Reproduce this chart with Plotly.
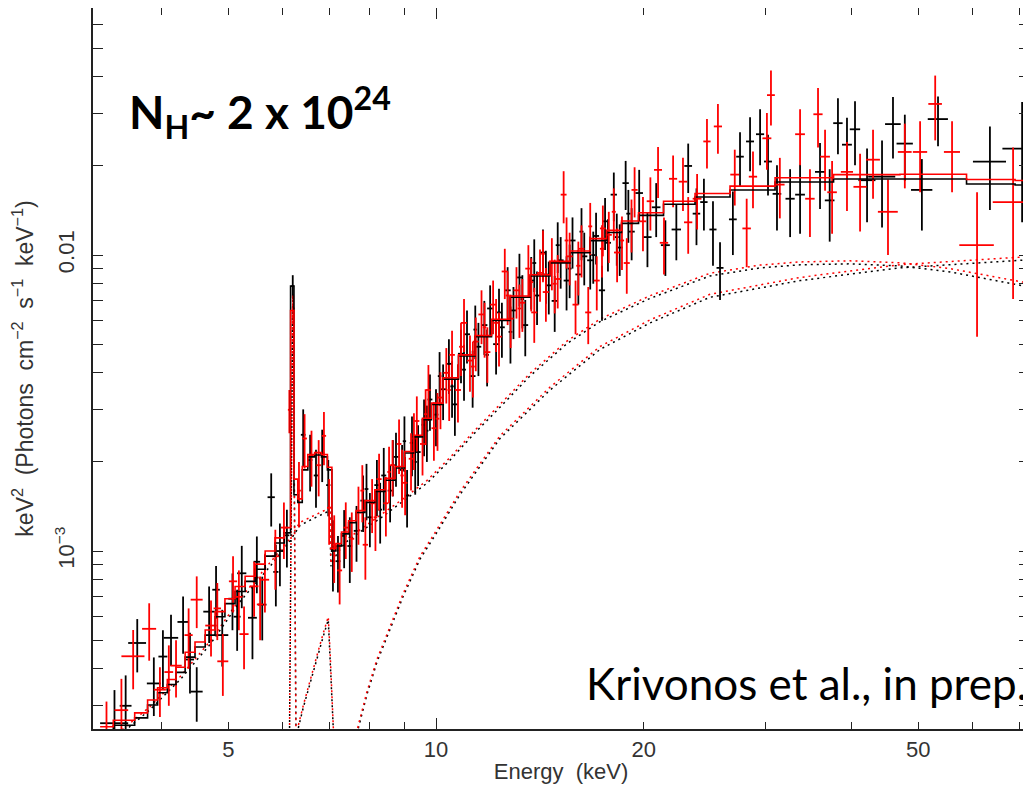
import plotly.graph_objects as go

# ---------------- FPMA (black) unfolded spectrum ----------------
fpma_energy = [3.42, 3.69, 3.90, 4.13, 4.30, 4.50, 4.69, 4.90, 5.07, 5.23, 5.42, 5.60, 5.77, 5.94, 6.08,
               6.20, 6.42, 6.57, 6.70, 6.84, 6.98, 7.09, 7.21, 7.36, 7.50,
               7.67, 7.84, 8.02, 8.21, 8.40, 8.58, 8.75, 8.93, 9.08, 9.23, 9.42, 9.61, 9.80, 10.0,
               10.24, 10.44, 10.65, 10.87, 11.09, 11.30, 11.52, 11.75, 11.98, 12.22,
               12.46, 12.70, 12.95, 13.21, 13.47, 13.74, 14.01, 14.29, 14.57, 14.86,
               15.16, 15.46, 15.77, 16.08, 16.40, 16.73, 17.06, 17.40, 17.75, 18.10,
               18.46, 18.83, 19.21, 19.70,
               20.25, 20.85, 21.50, 22.30, 23.20, 23.85, 24.45, 25.20, 25.80, 26.93, 27.58,
               28.52, 29.49, 30.28, 31.20, 32.60, 33.70, 36.02, 37.20, 38.24, 39.41,
               40.48, 42.14, 44.30, 45.95, 47.80, 50.60, 53.40, 63.50, 70.70,
               3.55, 4.02, 4.40, 4.80, 5.15, 5.50, 5.86,
               7.93, 8.30, 8.66, 9.00, 9.33, 9.70, 10.12, 10.55, 10.98, 11.40, 11.86, 12.34,
               12.82, 13.34, 13.88, 14.43, 15.01, 15.62, 16.25, 16.90, 17.58, 18.28, 19.00]
fpma_energy_halfwidth = [0.16, 0.11, 0.09, 0.10, 0.08, 0.09, 0.09, 0.10, 0.07, 0.08, 0.08, 0.08, 0.07, 0.07, 0.05,
                         0.03, 0.05, 0.05, 0.05, 0.05, 0.05, 0.05, 0.06, 0.06, 0.06,
                         0.07, 0.07, 0.07, 0.07, 0.07, 0.07, 0.07, 0.07, 0.07, 0.07, 0.08, 0.08, 0.08, 0.08,
                         0.10, 0.10, 0.10, 0.11, 0.11, 0.11, 0.11, 0.12, 0.12, 0.12,
                         0.12, 0.13, 0.13, 0.13, 0.13, 0.14, 0.14, 0.14, 0.15, 0.15,
                         0.15, 0.15, 0.16, 0.16, 0.17, 0.17, 0.17, 0.18, 0.18, 0.19,
                         0.19, 0.20, 0.20, 0.25,
                         0.28, 0.30, 0.32, 0.35, 0.30, 0.30, 0.30, 0.30, 0.30, 0.35, 0.35,
                         0.38, 0.40, 0.40, 0.45, 0.50, 0.55, 0.60, 0.60, 0.60, 0.65,
                         0.70, 1.2, 2.0, 1.2, 1.3, 1.8, 1.8, 3.5, 4.5,
                         0.07, 0.06, 0.06, 0.06, 0.06, 0.06, 0.05,
                         0.05, 0.05, 0.05, 0.05, 0.05, 0.05, 0.06, 0.06, 0.07, 0.07, 0.07, 0.08,
                         0.08, 0.08, 0.09, 0.09, 0.10, 0.10, 0.11, 0.11, 0.12, 0.12, 0.13]
fpma_flux = [2.62e-4, 4.89e-4, 3.57e-4, 5.09e-4, 5.76e-4, 3.35e-4, 6.24e-4, 5.20e-4, 6.9e-4, 8.41e-4,
             5.95e-4, 6.59e-4, 1.52e-3, 1.0e-3, 1.13e-3,
             7.85e-3, 2.47e-3, 2.03e-3, 1.80e-3, 2.14e-3, 1.67e-3, 1.0e-3, 9.24e-4, 1.125e-3, 1.04e-3,
             1.17e-3, 1.48e-3, 1.30e-3, 1.67e-3, 1.80e-3, 1.60e-3, 2.08e-3, 1.88e-3, 1.54e-3, 2.32e-3,
             2.16e-3, 2.67e-3, 3.25e-3, 2.89e-3,
             3.52e-3, 4.29e-3, 3.13e-3, 4.64e-3, 5.40e-3, 3.90e-3, 4.90e-3, 5.80e-3, 6.60e-3, 5.00e-3,
             5.70e-3, 7.60e-3, 6.50e-3, 8.40e-3, 5.80e-3, 8.20e-3, 7.30e-3, 1.02e-2, 7.90e-3, 7.00e-3,
             9.60e-3, 8.20e-3, 1.12e-2, 8.60e-3, 9.90e-3, 9.60e-3, 1.16e-2, 7.60e-3, 1.10e-2, 1.60e-2,
             1.06e-2, 1.75e-2, 1.20e-2, 1.62e-2,
             1.15e-2, 1.45e-2, 1.08e-2, 1.22e-2, 2.00e-2, 1.38e-2, 1.51e-2, 1.22e-2, 9.05e-3, 1.32e-2, 2.15e-2,
             2.42e-2, 2.56e-2, 2.07e-2, 1.61e-2, 1.55e-2, 1.60e-2, 1.91e-2, 1.53e-2, 2.79e-2, 2.36e-2,
             2.66e-2, 1.79e-2, 1.84e-2, 2.77e-2, 2.38e-2, 1.66e-2, 2.88e-2, 2.07e-2, 2.29e-2,
             3.0e-4, 4.4e-4, 4.3e-4, 7.4e-4, 6.0e-4, 9.2e-4, 8.5e-4,
             1.62e-3, 1.38e-3, 1.95e-3, 2.35e-3, 2.0e-3, 2.55e-3, 3.9e-3, 3.6e-3, 4.1e-3, 5.6e-3, 4.6e-3, 6.4e-3,
             5.5e-3, 7.1e-3, 9.4e-3, 8.6e-3, 1.08e-2, 9.0e-3, 1.2e-2, 1.0e-2, 1.3e-2, 1.15e-2, 1.38e-2]
fpma_flux_err = [0.77e-4, 1.0e-4, 0.8e-4, 1.0e-4, 1.26e-4, 0.7e-4, 1.35e-4, 1.13e-4, 1.5e-4, 2.0e-4,
                 1.64e-4, 1.6e-4, 3.1e-4, 2.4e-4, 2.5e-4,
                 0.7e-3, 0.54e-3, 0.44e-3, 0.40e-3, 0.43e-3, 0.36e-3, 0.27e-3, 2.0e-4, 2.5e-4, 2.6e-4,
                 0.25e-3, 0.32e-3, 0.27e-3, 0.36e-3, 0.43e-3, 0.35e-3, 0.43e-3, 0.40e-3, 0.34e-3, 0.53e-3,
                 0.50e-3, 0.58e-3, 0.70e-3, 0.63e-3,
                 0.75e-3, 0.9e-3, 0.68e-3, 0.95e-3, 1.1e-3, 0.85e-3, 1.0e-3, 1.2e-3, 1.3e-3, 1.05e-3,
                 1.2e-3, 1.5e-3, 1.3e-3, 1.7e-3, 1.25e-3, 1.65e-3, 1.5e-3, 2.0e-3, 1.6e-3, 1.5e-3,
                 1.9e-3, 1.7e-3, 2.2e-3, 1.8e-3, 2.0e-3, 1.95e-3, 2.3e-3, 1.6e-3, 2.2e-3, 3.0e-3,
                 2.1e-3, 3.3e-3, 2.4e-3, 3.2e-3,
                 2.4e-3, 3.0e-3, 2.3e-3, 2.6e-3, 3.8e-3, 3.0e-3, 3.0e-3, 3.0e-3, 2.0e-3, 3.2e-3, 4.5e-3,
                 5.0e-3, 5.5e-3, 4.8e-3, 4.0e-3, 4.0e-3, 4.2e-3, 4.8e-3, 4.2e-3, 6.0e-3, 5.5e-3,
                 6.5e-3, 5.0e-3, 6.0e-3, 6.5e-3, 6.0e-3, 4.5e-3, 5.5e-3, 6.5e-3, 1.0e-2,
                 0.8e-4, 1.0e-4, 1.0e-4, 1.5e-4, 1.4e-4, 2.0e-4, 2.0e-4,
                 0.35e-3, 0.32e-3, 0.42e-3, 0.5e-3, 0.45e-3, 0.55e-3, 0.8e-3, 0.78e-3, 0.88e-3, 1.15e-3, 1.0e-3, 1.3e-3,
                 1.2e-3, 1.45e-3, 1.9e-3, 1.75e-3, 2.1e-3, 1.85e-3, 2.4e-3, 2.0e-3, 2.6e-3, 2.3e-3, 2.8e-3]

# ---------------- FPMB (red) unfolded spectrum ----------------
fpmb_energy = [3.33, 3.64, 3.84, 3.98, 4.20, 4.50, 4.72, 4.91, 5.08, 5.27, 5.45, 5.65, 5.85, 6.02, 6.13, 6.21,
               6.33, 6.45, 6.60, 6.76, 6.88, 7.00, 7.12, 7.25, 7.40, 7.55,
               7.72, 7.90, 8.08, 8.27, 8.46, 8.65, 8.84, 9.02, 9.20, 9.38, 9.56, 9.75, 9.93,
               10.15, 10.35, 10.55, 10.76, 10.98, 11.20, 11.42, 11.64, 11.87, 12.10,
               12.34, 12.58, 12.83, 13.08, 13.34, 13.61, 13.88, 14.15, 14.43, 14.72,
               15.01, 15.31, 15.62, 15.93, 16.25, 16.62,
               17.10, 17.45, 17.80, 18.30, 18.90, 19.40, 19.95, 20.45, 20.98, 21.40,
               22.06, 22.80, 23.20, 23.90,
               24.70, 25.62, 27.10, 28.20, 28.80, 30.17, 30.58, 31.50, 33.70, 34.83,
               35.78, 36.63, 37.50, 39.41, 41.17, 42.99, 45.19, 47.80, 50.30, 52.90,
               55.96, 60.83, 68.60,
               3.50, 4.10, 4.38, 4.82, 5.18, 5.56,
               7.82, 8.17, 8.55, 8.93, 9.29, 9.66, 10.05, 10.45, 10.87, 11.31, 11.76, 12.22,
               12.70, 13.21, 13.74, 14.29, 14.86, 15.46, 16.08, 16.73, 17.40, 18.10, 18.60, 19.20]
fpmb_energy_halfwidth = [0.10, 0.14, 0.09, 0.08, 0.08, 0.09, 0.09, 0.09, 0.07, 0.08, 0.08, 0.08, 0.07, 0.06, 0.03, 0.03,
                         0.04, 0.05, 0.05, 0.05, 0.05, 0.05, 0.05, 0.06, 0.06, 0.06,
                         0.07, 0.07, 0.07, 0.07, 0.07, 0.07, 0.07, 0.07, 0.07, 0.08, 0.08, 0.08, 0.08,
                         0.10, 0.10, 0.10, 0.11, 0.11, 0.11, 0.11, 0.12, 0.12, 0.12,
                         0.12, 0.13, 0.13, 0.13, 0.13, 0.14, 0.14, 0.14, 0.15, 0.15,
                         0.15, 0.15, 0.16, 0.16, 0.16, 0.17,
                         0.17, 0.17, 0.18, 0.19, 0.19, 0.20, 0.22, 0.25, 0.28, 0.30,
                         0.30, 0.32, 0.32, 0.35,
                         0.30, 0.35, 0.40, 0.40, 0.40, 0.45, 0.40, 0.50, 0.55, 0.55,
                         0.55, 0.60, 0.60, 0.80, 0.90, 1.0, 1.5, 1.1, 1.2, 1.2,
                         1.5, 3.5, 4.5,
                         0.08, 0.06, 0.06, 0.06, 0.06, 0.06,
                         0.05, 0.05, 0.05, 0.05, 0.05, 0.05, 0.06, 0.06, 0.07, 0.07, 0.07, 0.08,
                         0.08, 0.08, 0.09, 0.09, 0.10, 0.10, 0.11, 0.11, 0.12, 0.12, 0.13, 0.13]
fpmb_flux = [2.35e-4, 4.41e-4, 5.46e-4, 3.40e-4, 4.1e-4, 6.85e-4, 5.6e-4, 4.24e-4, 7.90e-4, 5.24e-4,
             7.6e-4, 8.0e-4, 9.6e-4, 1.2e-3, 3.0e-3, 6.6e-3,
             1.6e-3, 2.4e-3, 2.1e-3, 1.95e-3, 2.45e-3, 1.4e-3, 1.05e-3, 8.6e-4, 1.2e-3, 1.1e-3,
             1.35e-3, 1.05e-3, 1.45e-3, 1.75e-3, 1.45e-3, 1.95e-3, 2.3e-3, 1.7e-3, 2.05e-3, 2.75e-3,
             2.3e-3, 3.5e-3, 2.6e-3,
             3.3e-3, 4.0e-3, 4.6e-3, 3.5e-3, 5.9e-3, 4.4e-3, 5.1e-3, 6.3e-3, 4.7e-3, 6.8e-3,
             5.3e-3, 8.8e-3, 6.1e-3, 7.6e-3, 6.9e-3, 9.0e-3, 6.4e-3, 8.7e-3, 7.5e-3, 9.5e-3,
             8.3e-3, 1.6e-2, 9.9e-3, 6.8e-3, 1.05e-2, 6.4e-3,
             8.2e-3, 1.23e-2, 1.17e-2, 1.02e-2, 9.4e-3, 1.66e-2, 1.30e-2, 1.52e-2, 1.94e-2, 1.10e-2,
             1.81e-2, 1.77e-2, 1.29e-2, 1.55e-2,
             2.42e-2, 2.72e-2, 1.87e-2, 1.23e-2, 1.84e-2, 2.48e-2, 3.47e-2, 1.73e-2, 2.56e-2, 1.55e-2,
             2.99e-2, 2.15e-2, 1.63e-2, 1.91e-2, 1.70e-2, 2.10e-2, 1.40e-2, 2.23e-2, 2.23e-2, 3.24e-2,
             2.23e-2, 1.08e-2, 1.51e-2,
             2.9e-4, 3.9e-4, 5.2e-4, 6.4e-4, 7.0e-4, 6.6e-4,
             1.6e-3, 1.3e-3, 1.85e-3, 1.8e-3, 2.4e-3, 2.9e-3, 2.8e-3, 3.5e-3, 4.9e-3, 4.2e-3, 5.7e-3, 5.9e-3,
             7.3e-3, 6.6e-3, 8.1e-3, 1.01e-2, 8.0e-3, 1.12e-2, 9.2e-3, 1.25e-2, 1.05e-2, 1.4e-2, 1.12e-2, 1.28e-2]
fpmb_flux_err = [0.75e-4, 1.0e-4, 1.2e-4, 0.65e-4, 0.9e-4, 1.36e-4, 1.2e-4, 1.0e-4, 1.7e-4, 1.25e-4,
                 1.6e-4, 1.8e-4, 2.2e-4, 0.26e-3, 0.5e-3, 0.7e-3,
                 0.4e-3, 0.5e-3, 0.45e-3, 0.42e-3, 0.5e-3, 0.35e-3, 0.27e-3, 2.0e-4, 2.6e-4, 2.5e-4,
                 0.3e-3, 0.25e-3, 0.3e-3, 0.38e-3, 0.33e-3, 0.42e-3, 0.48e-3, 0.38e-3, 0.45e-3, 0.58e-3,
                 0.5e-3, 0.75e-3, 0.58e-3,
                 0.72e-3, 0.85e-3, 0.95e-3, 0.78e-3, 1.2e-3, 0.95e-3, 1.05e-3, 1.3e-3, 1.0e-3, 1.4e-3,
                 1.1e-3, 1.7e-3, 1.25e-3, 1.5e-3, 1.4e-3, 1.8e-3, 1.35e-3, 1.75e-3, 1.55e-3, 1.9e-3,
                 1.7e-3, 3.2e-3, 2.0e-3, 1.4e-3, 2.1e-3, 1.4e-3,
                 1.7e-3, 2.4e-3, 2.3e-3, 2.1e-3, 2.0e-3, 3.2e-3, 2.7e-3, 3.1e-3, 3.8e-3, 2.4e-3,
                 3.6e-3, 3.6e-3, 2.8e-3, 3.3e-3,
                 4.6e-3, 5.2e-3, 4.0e-3, 3.2e-3, 4.0e-3, 5.4e-3, 7.3e-3, 4.0e-3, 5.5e-3, 4.0e-3,
                 6.8e-3, 5.0e-3, 4.5e-3, 5.0e-3, 5.0e-3, 5.5e-3, 4.0e-3, 5.5e-3, 6.0e-3, 8.0e-3,
                 6.0e-3, 5.5e-3, 8.0e-3,
                 0.8e-4, 0.9e-4, 1.2e-4, 1.4e-4, 1.6e-4, 1.6e-4,
                 0.35e-3, 0.3e-3, 0.4e-3, 0.4e-3, 0.52e-3, 0.62e-3, 0.62e-3, 0.75e-3, 1.0e-3, 0.9e-3, 1.2e-3, 1.2e-3,
                 1.5e-3, 1.35e-3, 1.65e-3, 2.0e-3, 1.65e-3, 2.2e-3, 1.9e-3, 2.5e-3, 2.1e-3, 2.8e-3, 2.3e-3, 2.6e-3]

# ---------------- total model (step histograms) ----------------
model_energy = [3.26, 3.56, 3.76, 3.88, 4.02, 4.14, 4.26, 4.40, 4.55, 4.71, 4.86, 5.03, 5.20, 5.38, 5.56,
                5.75, 5.94, 6.12, 6.19, 6.26, 6.35, 6.45, 6.59, 6.75, 6.90, 7.02, 7.11, 7.21, 7.38, 7.56,
                7.76, 8.02, 8.29, 8.58, 8.87, 9.14, 9.42, 9.70, 10.0, 10.48, 11.09, 11.70, 12.38, 13.23,
                14.15, 15.12, 16.17, 17.29, 18.05, 19.11, 20.22, 22.58, 24.95, 28.52, 33.70, 42.14,
                52.5, 65.7, 72.6]
model_flux_fpma = [2.45e-4, 2.58e-4, 2.73e-4, 3.02e-4, 3.32e-4, 3.54e-4, 3.89e-4, 4.38e-4, 4.74e-4, 5.20e-4,
                   6.0e-4, 6.64e-4, 7.30e-4, 7.90e-4, 8.68e-4, 9.61e-4, 1.065e-3, 1.152e-3, 7.85e-3, 1.55e-3,
                   1.46e-3, 1.88e-3, 2.08e-3, 2.11e-3, 2.08e-3, 1.88e-3, 1.0e-3, 1.04e-3, 1.143e-3, 1.246e-3,
                   1.35e-3, 1.46e-3, 1.59e-3, 1.735e-3, 1.907e-3, 2.145e-3, 2.43e-3, 2.78e-3, 3.13e-3, 3.81e-3,
                   4.56e-3, 5.30e-3, 6.01e-3, 7.20e-3, 8.50e-3, 9.41e-3, 1.018e-2, 1.119e-2, 1.192e-2,
                   1.279e-2, 1.362e-2, 1.485e-2, 1.570e-2, 1.658e-2, 1.766e-2, 1.808e-2, 1.808e-2,
                   1.739e-2, 1.725e-2]
model_flux_fpmb = [2.55e-4, 2.68e-4, 2.84e-4, 3.14e-4, 3.45e-4, 3.68e-4, 4.05e-4, 4.55e-4, 4.93e-4, 5.41e-4,
                   6.24e-4, 6.90e-4, 7.59e-4, 8.22e-4, 9.03e-4, 1.0e-3, 1.108e-3, 1.20e-3, 6.5e-3, 1.75e-3,
                   1.50e-3, 1.93e-3, 2.12e-3, 2.15e-3, 2.12e-3, 1.92e-3, 1.02e-3, 1.06e-3, 1.16e-3, 1.265e-3,
                   1.37e-3, 1.48e-3, 1.61e-3, 1.76e-3, 1.93e-3, 2.17e-3, 2.46e-3, 2.81e-3, 3.16e-3, 3.85e-3,
                   4.60e-3, 5.35e-3, 6.07e-3, 7.27e-3, 8.58e-3, 9.52e-3, 1.032e-2, 1.136e-2, 1.212e-2,
                   1.303e-2, 1.39e-2, 1.52e-2, 1.615e-2, 1.71e-2, 1.825e-2, 1.87e-2, 1.875e-2,
                   1.80e-2, 1.785e-2]

# ---------------- model components (dotted) ----------------
refl_energy = [3.48, 3.85, 4.26, 4.71, 5.20, 5.75, 6.14, 6.35, 6.68, 7.02, 7.04, 7.18, 7.38, 7.76, 8.29,
               8.87, 9.70, 10.48, 11.39, 12.38, 13.68, 15.48, 17.29, 20.43, 24.95, 29.49, 33.70, 39.81,
               47.03, 55.6, 65.7, 72.6]
refl_flux_fpma = [2.39e-4, 2.91e-4, 3.68e-4, 4.85e-4, 6.75e-4, 8.88e-4, 1.08e-3, 1.22e-3, 1.296e-3, 1.37e-3,
                  8.88e-4, 9.77e-4, 1.065e-3, 1.161e-3, 1.286e-3, 1.447e-3, 1.694e-3, 2.03e-3, 2.51e-3,
                  3.06e-3, 3.90e-3, 5.02e-3, 5.96e-3, 7.14e-3, 8.50e-3, 9.05e-3, 9.27e-3, 9.34e-3,
                  9.19e-3, 8.77e-3, 8.17e-3, 7.79e-3]
refl_flux_fpmb = [2.45e-4, 2.98e-4, 3.77e-4, 4.97e-4, 6.9e-4, 9.1e-4, 1.10e-3, 1.25e-3, 1.32e-3, 1.40e-3,
                  9.05e-4, 9.95e-4, 1.085e-3, 1.18e-3, 1.31e-3, 1.475e-3, 1.73e-3, 2.07e-3, 2.56e-3,
                  3.12e-3, 3.98e-3, 5.12e-3, 6.08e-3, 7.29e-3, 8.68e-3, 9.25e-3, 9.48e-3, 9.56e-3,
                  9.42e-3, 9.0e-3, 8.40e-3, 8.02e-3]
trans_energy = [7.6, 7.71, 7.94, 8.21, 8.49, 8.96, 9.48, 10.0, 10.83, 12.38, 14.63, 17.29, 20.43, 24.95,
                33.70, 47.03, 72.6]
trans_flux_fpma = [2.0e-4, 2.5e-4, 3.27e-4, 4.21e-4, 5.12e-4, 7.02e-4, 9.39e-4, 1.143e-3, 1.55e-3, 2.40e-3,
                   3.50e-3, 4.80e-3, 5.90e-3, 7.20e-3, 8.20e-3, 9.05e-3, 9.64e-3]
trans_flux_fpmb = [2.05e-4, 2.56e-4, 3.34e-4, 4.30e-4, 5.23e-4, 7.17e-4, 9.6e-4, 1.168e-3, 1.585e-3, 2.45e-3,
                   3.58e-3, 4.91e-3, 6.04e-3, 7.37e-3, 8.40e-3, 9.28e-3, 9.88e-3]
feka_energy = [6.13, 6.16, 6.18, 6.20, 6.22, 6.24, 6.27]
feka_flux_fpma = [2.0e-4, 8.0e-4, 3.5e-3, 7.4e-3, 3.5e-3, 8.0e-4, 2.0e-4]
feka_flux_fpmb = [2.0e-4, 7.5e-4, 3.2e-3, 6.8e-3, 3.2e-3, 7.5e-4, 2.0e-4]
shoulder_energy = [6.28, 6.31, 6.42, 6.57, 6.73, 6.86, 6.98, 7.02, 7.07, 7.11, 7.13]
shoulder_flux_fpma = [2.0e-4, 2.5e-4, 2.95e-4, 3.60e-4, 4.38e-4, 5.12e-4, 5.86e-4, 4.55e-4, 3.2e-4, 2.5e-4, 2.0e-4]
shoulder_flux_fpmb = [2.0e-4, 2.55e-4, 3.0e-4, 3.68e-4, 4.48e-4, 5.25e-4, 6.0e-4, 4.65e-4, 3.28e-4, 2.55e-4, 2.0e-4]

# ---------------- axes ----------------
x_tick_vals = [5, 10, 20, 50]
x_tick_text = ["5", "10", "20", "50"]
x_minor_vals = [4, 6, 7, 8, 9, 30, 40, 60, 70]
y_tick_vals = [1e-3, 1e-2]
y_tick_text = ["10<sup>\u22123</sup>", "0.01"]
y_minor_vals = [3e-4, 4e-4, 5e-4, 6e-4, 7e-4, 8e-4, 9e-4, 2e-3, 3e-3, 4e-3, 5e-3, 6e-3, 7e-3, 8e-3, 9e-3,
                2e-2, 3e-2, 4e-2, 5e-2, 6e-2]
x_range = [0.5029, 1.8594]
y_range = [-3.6013, -1.1653]

BLACK = "#000000"
RED = "#ff0000"

fig = go.Figure()

components = [
    (refl_energy, refl_flux_fpma, refl_flux_fpmb),
    (trans_energy, trans_flux_fpma, trans_flux_fpmb),
    (feka_energy, feka_flux_fpma, feka_flux_fpmb),
    (shoulder_energy, shoulder_flux_fpma, shoulder_flux_fpmb),
]
for en, fa, fb in components:
    fig.add_trace(go.Scatter(x=en, y=fa, mode="lines", showlegend=False, hoverinfo="skip",
                             line=dict(color=BLACK, width=1.5, dash="2px,4px")))
    fig.add_trace(go.Scatter(x=en, y=fb, mode="lines", showlegend=False, hoverinfo="skip",
                             line=dict(color=RED, width=1.5, dash="0px,3px,2px,1px")))

for en, de, fl, fe, col in [(fpma_energy, fpma_energy_halfwidth, fpma_flux, fpma_flux_err, BLACK),
                            (fpmb_energy, fpmb_energy_halfwidth, fpmb_flux, fpmb_flux_err, RED)]:
    fig.add_trace(go.Scatter(
        x=en, y=fl, mode="markers", showlegend=False,
        marker=dict(size=2, color=col, opacity=0),
        error_x=dict(type="data", array=de, symmetric=True, width=0, thickness=1.8, color=col),
        error_y=dict(type="data", array=fe, symmetric=True, width=0, thickness=1.8, color=col),
    ))

fig.add_trace(go.Scatter(x=model_energy, y=model_flux_fpma, mode="lines", showlegend=False,
                         line=dict(color=BLACK, width=1.6, shape="hvh")))
fig.add_trace(go.Scatter(x=model_energy, y=model_flux_fpmb, mode="lines", showlegend=False,
                         line=dict(color=RED, width=1.6, shape="hvh")))

# helper trace for the long decade tick axis
fig.add_trace(go.Scatter(x=[10], y=[1e-3], xaxis="x2", mode="markers",
                         marker=dict(size=2, opacity=0), showlegend=False, hoverinfo="skip"))

tick_font = dict(family="Liberation Sans, Arial, sans-serif", size=22, color="#333333")
title_font = dict(family="Liberation Sans, Arial, sans-serif", size=23, color="#333333")
axis_color = "#222222"
nb = "\u00a0"

fig.update_layout(
    width=1023, height=777,
    margin=dict(l=85, r=2, t=0, b=56, pad=0),
    paper_bgcolor="white", plot_bgcolor="white",
    showlegend=False,
    xaxis=dict(
        type="log", range=x_range, showgrid=False, zeroline=False,
        showline=True, linecolor=axis_color, linewidth=1.5, mirror="allticks",
        ticks="inside", ticklen=7, tickwidth=1.3, tickcolor=axis_color,
        tickmode="array", tickvals=x_tick_vals, ticktext=x_tick_text,
        tickfont=tick_font, ticklabelstandoff=0,
        minor=dict(tickmode="array", tickvals=x_minor_vals, ticks="inside", ticklen=7,
                   tickwidth=1.3, tickcolor=axis_color, showgrid=False),
        title=dict(text="Energy" + nb + nb + "(keV)", font=tick_font, standoff=2),
        automargin=False,
    ),
    xaxis2=dict(
        type="log", range=x_range, overlaying="x", side="bottom", anchor="y",
        showgrid=False, zeroline=False, showline=False, mirror="allticks",
        ticks="inside", ticklen=11, tickwidth=1.3, tickcolor=axis_color,
        tickmode="array", tickvals=[10], showticklabels=False, automargin=False,
    ),
    yaxis=dict(
        type="log", range=y_range, showgrid=False, zeroline=False,
        showline=True, linecolor=axis_color, linewidth=1.5, mirror="allticks",
        ticks="inside", ticklen=10, tickwidth=1.3, tickcolor=axis_color,
        tickmode="array", tickvals=y_tick_vals, ticktext=y_tick_text,
        tickangle=-90, tickfont=tick_font, ticklabelstandoff=8,
        minor=dict(tickmode="array", tickvals=y_minor_vals, ticks="inside", ticklen=6,
                   tickwidth=1.3, tickcolor=axis_color, showgrid=False),
        title=dict(text="keV<sup>2</sup>" + nb + nb + "(Photons" + nb + nb + "cm<sup>\u22122</sup>" + nb + nb
                   + "s<sup>\u22121</sup>" + nb + nb + "keV<sup>\u22121</sup>)",
                   font=title_font, standoff=12),
        automargin=False,
    ),
    annotations=[
        dict(text="<b>N<sub>H</sub>~ 2 x 10<sup>24</sup></b>", xref="paper", yref="paper",
             x=0.036, y=0.856, xanchor="left", yanchor="middle", showarrow=False,
             font=dict(family="Lato, Open Sans, sans-serif", size=46, color="black")),
        dict(text="Krivonos et al., in prep.", xref="paper", yref="paper",
             x=1.0, y=0.064, xanchor="right", yanchor="middle", showarrow=False,
             font=dict(family="Lato, Open Sans, sans-serif", size=44, color="black")),
    ],
)

fig.write_html("out.html")
